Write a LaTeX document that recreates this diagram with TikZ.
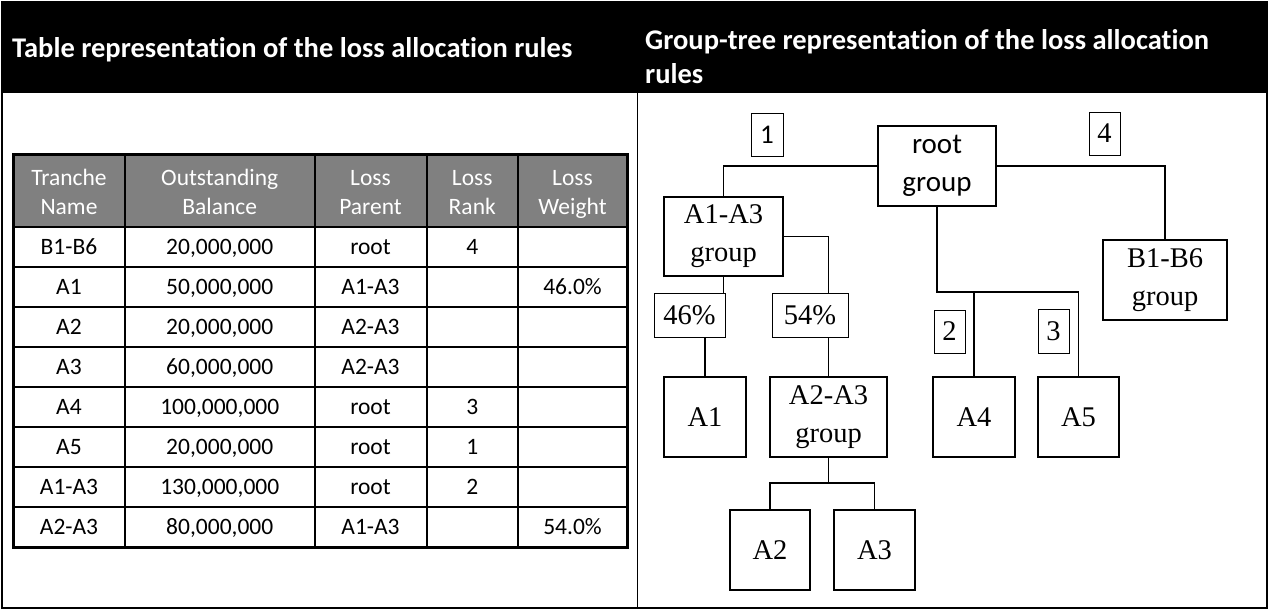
\documentclass[tikz,border=0pt]{standalone}
\usepackage{fontspec}
\setmainfont{Liberation Serif}
\newfontfamily\calib{Carlito}[Ligatures=NoCommon]
\begin{document}
\begin{tikzpicture}[x=1pt,y=-1pt,
  hdr/.style={font=\calib\bfseries\fontsize{28.5}{33}\selectfont, text=white, align=left, inner sep=0pt},
  th/.style={font=\calib\fontsize{23.5}{29}\selectfont, text=white, align=center, inner sep=0pt, anchor=base},
  td/.style={font=\calib\fontsize{23.5}{28}\selectfont, inner sep=0pt, anchor=base},
  grp/.style 2 args={draw, line width=2pt, minimum width=#1, minimum height=#2, inner sep=0pt, align=center, font=\fontsize{28.5}{38}\selectfont},
  grpsans/.style 2 args={draw, line width=2pt, minimum width=#1, minimum height=#2, inner sep=0pt, align=center, font=\calib\fontsize{29}{38}\selectfont},
  lbl/.style 2 args={draw, line width=1pt, minimum width=#1, minimum height=#2, inner sep=0pt, font=\fontsize{28.5}{34}\selectfont},
  lblsans/.style 2 args={draw, line width=1pt, minimum width=#1, minimum height=#2, inner sep=0pt, font=\calib\fontsize{27}{34}\selectfont},
  conn/.style={line width=1.5pt},
  tline/.style={line width=2pt},
  tframe/.style={line width=3pt}]
\useasboundingbox (0,0) rectangle (1268,610);
% frame and header band
\fill[black] (2,2) rectangle (1266.5,93);
\draw[line width=2pt] (2,2) rectangle (1266.5,608);
\draw[line width=1.5pt] (637.5,93) -- (637.5,608);
\node[hdr, anchor=base west] (hl) at (12,57) {Table representation of the loss allocation rules};
\node[hdr, anchor=base west] (hr) at (645,83) {Group-tree representation of the loss allocation\\rules};
% table
\fill[gray] (13,154) rectangle (627,227);
\foreach \yy in {227,267,307,347,387,427,467,507} \draw[tline] (13,\yy) -- (627,\yy);
\foreach \xx in {125,314.5,426.5,518} \draw[tline] (\xx,154) -- (\xx,547);
\draw[tframe] (13,154) rectangle (627,547);
\node[th] (h1) at (69,214.5) {Tranche\\Name};
\node[th] (h2) at (219.75,214.5) {Outstanding\\Balance};
\node[th] (h3) at (370.5,214.5) {Loss\\Parent};
\node[th] (h4) at (472.25,214.5) {Loss\\Rank};
\node[th] (h5) at (572.5,214.5) {Loss\\Weight};
% rows
\node[td] (r1a) at (69,254.5) {B1-B6};
\node[td] (r1b) at (219.75,254.5) {20,000,000};
\node[td] (r1c) at (370.5,254.5) {root};
\node[td] (r1d) at (472.25,254.5) {4};
\node[td] (r2a) at (69,294.5) {A1};
\node[td] (r2b) at (219.75,294.5) {50,000,000};
\node[td] (r2c) at (370.5,294.5) {A1-A3};
\node[td] (r2e) at (572.5,294.5) {46.0\%};
\node[td] (r3a) at (69,334.5) {A2};
\node[td] (r3b) at (219.75,334.5) {20,000,000};
\node[td] (r3c) at (370.5,334.5) {A2-A3};
\node[td] (r4a) at (69,374.5) {A3};
\node[td] (r4b) at (219.75,374.5) {60,000,000};
\node[td] (r4c) at (370.5,374.5) {A2-A3};
\node[td] (r5a) at (69,414.5) {A4};
\node[td] (r5b) at (219.75,414.5) {100,000,000};
\node[td] (r5c) at (370.5,414.5) {root};
\node[td] (r5d) at (472.25,414.5) {3};
\node[td] (r6a) at (69,454.5) {A5};
\node[td] (r6b) at (219.75,454.5) {20,000,000};
\node[td] (r6c) at (370.5,454.5) {root};
\node[td] (r6d) at (472.25,454.5) {1};
\node[td] (r7a) at (69,494.5) {A1-A3};
\node[td] (r7b) at (219.75,494.5) {130,000,000};
\node[td] (r7c) at (370.5,494.5) {root};
\node[td] (r7d) at (472.25,494.5) {2};
\node[td] (r8a) at (69,534.5) {A2-A3};
\node[td] (r8b) at (219.75,534.5) {80,000,000};
\node[td] (r8c) at (370.5,534.5) {A1-A3};
\node[td] (r8e) at (572.5,534.5) {54.0\%};
% tree
\node[grpsans={118pt}{80pt}] (root) at (937,166) {root\\group};
\node[lblsans={32pt}{43pt}] (n1) at (767,134.5) {1};
\node[lbl={31pt}{43pt}] (n4) at (1104.5,133.5) {4};
\node[grp={119pt}{79pt}] (a13) at (723.5,236.5) {A1-A3\\group};
\node[grp={124pt}{80pt}] (b16) at (1165,280) {B1-B6\\group};
\node[lbl={71pt}{44pt}] (p46) at (689.5,315) {46\%};
\node[lbl={76pt}{44pt}] (p54) at (810,315) {54\%};
\node[grp={82pt}{80pt}] (a1) at (705,417) {A1};
\node[grp={117pt}{80pt}] (a23) at (828.5,417) {A2-A3\\group};
\node[grp={80pt}{80pt}] (a2) at (770,550) {A2};
\node[grp={81pt}{80pt}] (a3) at (874.5,550) {A3};
\node[lbl={31pt}{43pt}] (n2) at (949.5,331.5) {2};
\node[lbl={31pt}{44pt}] (n3) at (1053.5,331) {3};
\node[grp={82pt}{80pt}] (a4) at (974,417) {A4};
\node[grp={81pt}{80pt}] (a5) at (1078.5,417) {A5};
% connectors
\coordinate (rj) at (937,292);
\coordinate (aj) at (828.5,483);
\draw[conn] (root.west) -| (a13.north);
\draw[conn] (root.east) -| (b16.north);
\draw[conn] (root.south) -- (rj) -| (a5.north);
\draw[conn] (a4.north |- rj) -- (a4.north);
\draw[conn] (a13.south) -- (a13.south |- p46.north);
\draw[conn] (p46.south -| a1.north) -- (a1.north);
\draw[conn] (a13.east) -| (a23.north |- p54.north);
\draw[conn] (a23.north |- p54.south) -- (a23.north);
\draw[conn] (a23.south) -- (aj);
\draw[conn] (a2.north) |- (a3.north |- aj) -- (a3.north);
\end{tikzpicture}
\end{document}
